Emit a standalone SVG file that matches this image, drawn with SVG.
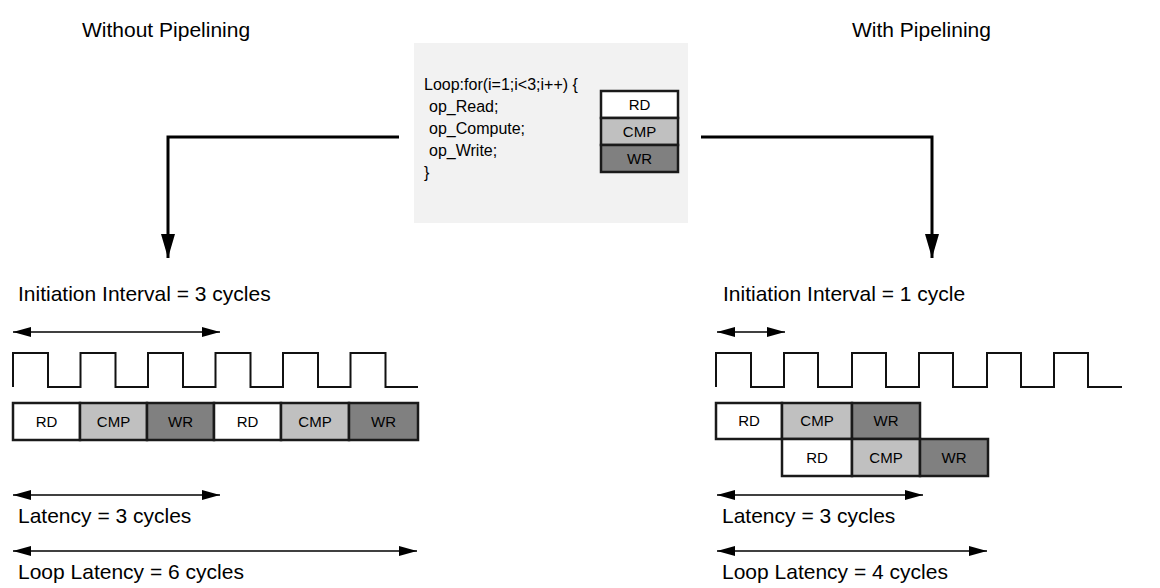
<svg xmlns="http://www.w3.org/2000/svg" width="1160" height="588" viewBox="0 0 1160 588">
<style>
.t{font-family:"Liberation Sans",Arial,sans-serif;fill:#000}
.big{font-size:21px}
.code{font-size:16px}
.lbl{font-size:15px;text-anchor:middle}
.box{stroke:#1a1a1a;stroke-width:2.5}
.rd{fill:#ffffff}
.cmp{fill:#c0c0c0}
.wr{fill:#808080}
.clk{fill:none;stroke:#111;stroke-width:2}
.dim{stroke:#000;stroke-width:1.5;fill:none;marker-start:url(#ah);marker-end:url(#ah)}
.conn{stroke:#000;stroke-width:3;fill:none;marker-end:url(#bh)}
</style>
<defs>
<marker id="ah" markerUnits="userSpaceOnUse" markerWidth="18" markerHeight="10" refX="18" refY="5" orient="auto-start-reverse"><path d="M0,0 L18,5 L0,10 z" fill="#000"/></marker>
<marker id="bh" markerUnits="userSpaceOnUse" markerWidth="24" markerHeight="14" refX="24" refY="7" orient="auto"><path d="M0,0 L24,7 L0,14 z" fill="#000"/></marker>
</defs>
<rect width="1160" height="588" fill="#fff"/>

<g id="title-left"><text class="t big" x="82" y="37">Without Pipelining</text></g>
<g id="title-right"><text class="t big" x="852" y="37">With Pipelining</text></g>

<g id="code-box">
<rect x="414" y="43" width="274" height="180" fill="#f2f2f2"/>
<text class="t code" x="424" y="90">Loop:for(i=1;i&lt;3;i++) {</text>
<text class="t code" x="429" y="112">op_Read;</text>
<text class="t code" x="429" y="134">op_Compute;</text>
<text class="t code" x="429" y="156">op_Write;</text>
<text class="t code" x="424" y="178">}</text>
<rect class="box rd" x="601" y="91" width="77" height="27"/>
<rect class="box cmp" x="601" y="118" width="77" height="27"/>
<rect class="box wr" x="601" y="145" width="77" height="27"/>
<text class="t lbl" x="639.5" y="110">RD</text>
<text class="t lbl" x="639.5" y="137">CMP</text>
<text class="t lbl" x="639.5" y="164">WR</text>
</g>

<g id="connectors">
<path class="conn" d="M399,137 H168 V258"/>
<path class="conn" d="M701,137 H932 V258"/>
</g>

<g id="without-pipelining">
<text class="t big" x="18" y="301">Initiation Interval = 3 cycles</text>
<line class="dim" x1="13" y1="332" x2="220" y2="332"/>
<path class="clk" d="M13,387 V353 H48 V387 H80.5 V353 H115.5 V387 H148 V353 H183 V387 H215.5 V353 H250.5 V387 H283 V353 H318 V387 H350.5 V353 H385.5 V387 H418"/>
<rect class="box rd" x="13" y="403" width="67" height="37"/>
<rect class="box cmp" x="80" y="403" width="67" height="37"/>
<rect class="box wr" x="147" y="403" width="67" height="37"/>
<rect class="box rd" x="214" y="403" width="67" height="37"/>
<rect class="box cmp" x="281" y="403" width="68" height="37"/>
<rect class="box wr" x="349" y="403" width="69" height="37"/>
<text class="t lbl" x="46.5" y="427">RD</text>
<text class="t lbl" x="113.5" y="427">CMP</text>
<text class="t lbl" x="180.5" y="427">WR</text>
<text class="t lbl" x="247.5" y="427">RD</text>
<text class="t lbl" x="315" y="427">CMP</text>
<text class="t lbl" x="383.5" y="427">WR</text>
<line class="dim" x1="13" y1="495" x2="220" y2="495"/>
<text class="t big" x="18" y="523">Latency = 3 cycles</text>
<line class="dim" x1="13" y1="551" x2="417" y2="551"/>
<text class="t big" x="18" y="579">Loop Latency = 6 cycles</text>
</g>

<g id="with-pipelining">
<text class="t big" x="723" y="301">Initiation Interval = 1 cycle</text>
<line class="dim" x1="717" y1="332" x2="785" y2="332"/>
<path class="clk" d="M716,387 V353 H751 V387 H784 V353 H818 V387 H852 V353 H886 V387 H919 V353 H953 V387 H987 V353 H1021 V387 H1054 V353 H1088 V387 H1122"/>
<rect class="box rd" x="716" y="403" width="66" height="36"/>
<rect class="box cmp" x="782" y="403" width="70" height="36"/>
<rect class="box wr" x="852" y="403" width="68" height="36"/>
<rect class="box rd" x="782" y="439" width="70" height="37"/>
<rect class="box cmp" x="852" y="439" width="68" height="37"/>
<rect class="box wr" x="920" y="439" width="68" height="37"/>
<text class="t lbl" x="749" y="426">RD</text>
<text class="t lbl" x="817" y="426">CMP</text>
<text class="t lbl" x="886" y="426">WR</text>
<text class="t lbl" x="817" y="463">RD</text>
<text class="t lbl" x="886" y="463">CMP</text>
<text class="t lbl" x="954" y="463">WR</text>
<line class="dim" x1="717" y1="495" x2="923" y2="495"/>
<text class="t big" x="722" y="523">Latency = 3 cycles</text>
<line class="dim" x1="717" y1="551" x2="987" y2="551"/>
<text class="t big" x="722" y="579">Loop Latency = 4 cycles</text>
</g>
</svg>
